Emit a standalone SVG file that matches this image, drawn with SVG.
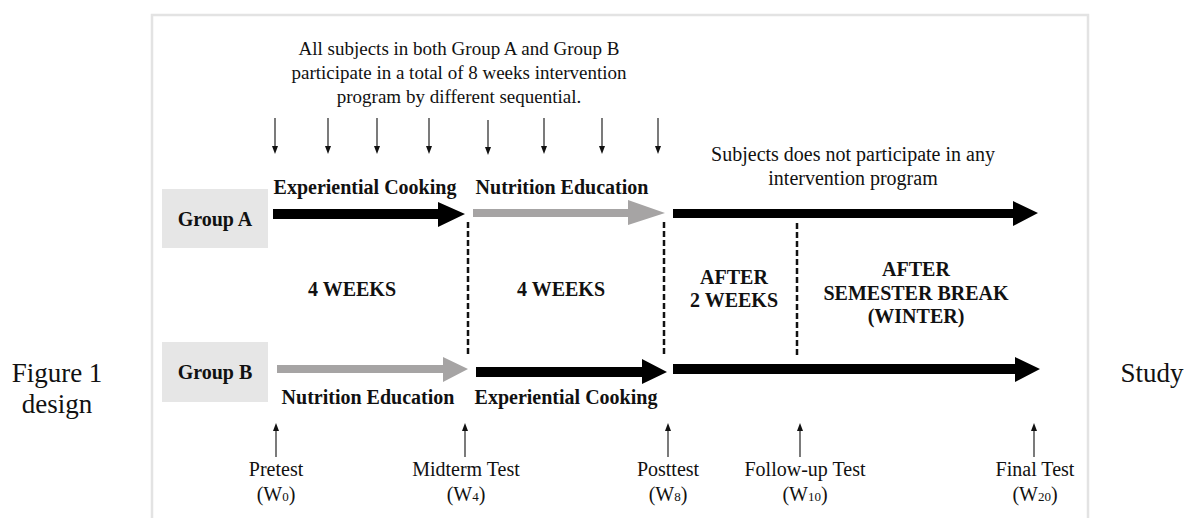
<svg xmlns="http://www.w3.org/2000/svg" width="1189" height="518" viewBox="0 0 1189 518">
<style>
.t{font-family:"Liberation Serif","Times New Roman",serif;fill:#111}
.r{font-size:19px}
.b{font-size:20px;font-weight:bold}
.s{font-size:20px}
.big{font-size:27px}
.dash{stroke:#111;stroke-width:2.5;stroke-dasharray:6,3;fill:none}
.tick{stroke:#222;stroke-width:1.2}
</style>
<defs>
<marker id="ah" markerWidth="8" markerHeight="8" refX="4" refY="4" orient="auto" markerUnits="userSpaceOnUse" viewBox="0 0 8 8"><path d="M0,1 L8,4 L0,7 Z" fill="#111"/></marker>
</defs>
<rect x="0" y="0" width="1189" height="518" fill="#fff"/>
<path d="M152,518 V15 H1088 V518" fill="none" stroke="#e3e3e3" stroke-width="2.5"/>

<g id="caption">
<text class="t big" x="57" y="382" text-anchor="middle">Figure 1</text>
<text class="t big" x="57" y="413" text-anchor="middle">design</text>
<text class="t big" x="1152" y="382" text-anchor="middle">Study</text>
</g>

<g id="intro">
<text class="t r" x="459" y="55" text-anchor="middle">All subjects in both Group A and Group B</text>
<text class="t r" x="459" y="79" text-anchor="middle">participate in a total of 8 weeks intervention</text>
<text class="t r" x="459" y="103" text-anchor="middle">program by different sequential.</text>
</g>

<g id="no-intervention">
<text class="t s" x="853" y="161" text-anchor="middle">Subjects does not participate in any</text>
<text class="t s" x="853" y="185" text-anchor="middle">intervention program</text>
</g>

<g id="weekly-arrows">
<line class="tick" x1="275" y1="118" x2="275" y2="150" marker-end="url(#ah)"/>
<line class="tick" x1="328" y1="118" x2="328" y2="150" marker-end="url(#ah)"/>
<line class="tick" x1="377" y1="118" x2="377" y2="150" marker-end="url(#ah)"/>
<line class="tick" x1="429" y1="118" x2="429" y2="150" marker-end="url(#ah)"/>
<line class="tick" x1="488" y1="120" x2="488" y2="151" marker-end="url(#ah)"/>
<line class="tick" x1="544" y1="118" x2="544" y2="150" marker-end="url(#ah)"/>
<line class="tick" x1="602" y1="118" x2="602" y2="150" marker-end="url(#ah)"/>
<line class="tick" x1="658" y1="118" x2="658" y2="150" marker-end="url(#ah)"/>
</g>

<g id="groupA">
<rect x="162" y="189" width="106" height="59" fill="#e6e6e6"/>
<text class="t b" x="215" y="226" text-anchor="middle">Group A</text>
</g>
<g id="groupB">
<rect x="162" y="342" width="106" height="60" fill="#e6e6e6"/>
<text class="t b" x="215" y="379" text-anchor="middle">Group B</text>
</g>

<g id="connectors">
<path d="M273,209 H438 V202 L465,214 L438,227 V219 H273 Z" fill="#000"/>
<path d="M473,209 H628 V200 L665,213 L628,225 V217 H473 Z" fill="#a6a4a4"/>
<path d="M673,209 H1013 V201 L1038,213 L1013,226 V218 H673 Z" fill="#000"/>
<path d="M277,365 H443 V357 L468,369 L443,382 V373 H277 Z" fill="#a6a4a4"/>
<path d="M476,367 H642 V359 L667,372 L642,384 V377 H476 Z" fill="#000"/>
<path d="M673,364 H1015 V357 L1040,369 L1015,382 V374 H673 Z" fill="#000"/>
<line class="dash" x1="468" y1="222" x2="468" y2="357"/>
<line class="dash" x1="664" y1="222" x2="664" y2="357"/>
<line class="dash" x1="797" y1="223" x2="797" y2="357"/>
<line class="tick" x1="276" y1="457" x2="276" y2="427" marker-end="url(#ah)"/>
<line class="tick" x1="465" y1="457" x2="465" y2="427" marker-end="url(#ah)"/>
<line class="tick" x1="668" y1="457" x2="668" y2="427" marker-end="url(#ah)"/>
<line class="tick" x1="800" y1="457" x2="800" y2="427" marker-end="url(#ah)"/>
<line class="tick" x1="1034" y1="457" x2="1034" y2="427" marker-end="url(#ah)"/>
</g>

<g id="phase-labels">
<text class="t b" x="365" y="194" text-anchor="middle">Experiential Cooking</text>
<text class="t b" x="562" y="194" text-anchor="middle">Nutrition Education</text>
<text class="t b" x="368" y="404" text-anchor="middle">Nutrition Education</text>
<text class="t b" x="566" y="404" text-anchor="middle">Experiential Cooking</text>
<text class="t b" x="352" y="296" text-anchor="middle">4 WEEKS</text>
<text class="t b" x="561" y="296" text-anchor="middle">4 WEEKS</text>
<text class="t b" x="734" y="284" text-anchor="middle">AFTER</text>
<text class="t b" x="734" y="307" text-anchor="middle">2 WEEKS</text>
<text class="t b" x="916" y="276" text-anchor="middle">AFTER</text>
<text class="t b" x="916" y="300" text-anchor="middle">SEMESTER BREAK</text>
<text class="t b" x="916" y="323" text-anchor="middle">(WINTER)</text>
</g>

<g id="tests">
<text class="t s" x="276" y="476" text-anchor="middle">Pretest</text>
<text class="t s" x="276" y="501" text-anchor="middle">(W<tspan font-size="13">0</tspan>)</text>
<text class="t s" x="466" y="476" text-anchor="middle">Midterm Test</text>
<text class="t s" x="466" y="501" text-anchor="middle">(W<tspan font-size="13">4</tspan>)</text>
<text class="t s" x="668" y="476" text-anchor="middle">Posttest</text>
<text class="t s" x="668" y="501" text-anchor="middle">(W<tspan font-size="13">8</tspan>)</text>
<text class="t s" x="805" y="476" text-anchor="middle">Follow-up Test</text>
<text class="t s" x="805" y="501" text-anchor="middle">(W<tspan font-size="13">10</tspan>)</text>
<text class="t s" x="1035" y="476" text-anchor="middle">Final Test</text>
<text class="t s" x="1035" y="501" text-anchor="middle">(W<tspan font-size="13">20</tspan>)</text>
</g>
</svg>
